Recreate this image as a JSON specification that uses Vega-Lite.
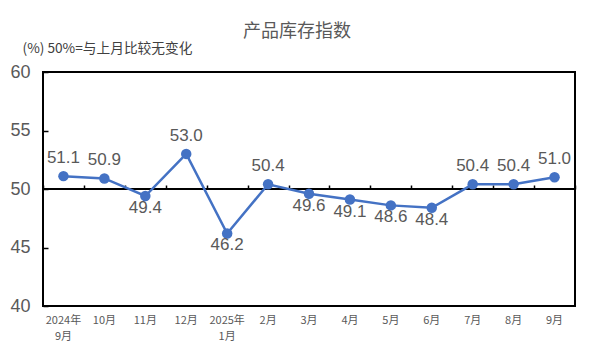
{
  "$schema": "https://vega.github.io/schema/vega-lite/v6.json",
  "autosize": "none",
  "width": 532,
  "height": 234,
  "padding": {"left": 43, "top": 72, "right": 16, "bottom": 48},
  "background": "white",
  "title": {
    "text": "产品库存指数",
    "anchor": "middle",
    "dx": -12,
    "offset": 0,
    "fontSize": 18,
    "fontWeight": "normal",
    "font": "Noto Sans CJK SC",
    "color": "#595959"
  },
  "config": {
    "view": {"stroke": "black", "strokeWidth": 2},
    "font": "Noto Sans CJK SC"
  },
  "data": {
    "values": [
      {"m": "2024年|9月", "v": 51.1},
      {"m": "10月", "v": 50.9},
      {"m": "11月", "v": 49.4},
      {"m": "12月", "v": 53.0},
      {"m": "2025年|1月", "v": 46.2},
      {"m": "2月", "v": 50.4},
      {"m": "3月", "v": 49.6},
      {"m": "4月", "v": 49.1},
      {"m": "5月", "v": 48.6},
      {"m": "6月", "v": 48.4},
      {"m": "7月", "v": 50.4},
      {"m": "8月", "v": 50.4},
      {"m": "9月", "v": 51.0}
    ]
  },
  "encoding": {
    "x": {
      "field": "m",
      "type": "nominal",
      "sort": null,
      "axis": null,
      "scale": {"paddingInner": 0, "paddingOuter": 0}
    },
    "y": {
      "field": "v",
      "type": "quantitative",
      "scale": {"domain": [40, 60], "nice": false, "zero": false},
      "axis": {
        "title": "(%)  50%=与上月比较无变化",
        "titleAngle": 0,
        "titleX": -21,
        "titleY": -24,
        "titleAlign": "left",
        "titleBaseline": "middle",
        "titleFontSize": 13.7,
        "titleFontWeight": "normal",
        "titleColor": "#404040",
        "values": [40, 45, 50, 55, 60],
        "grid": false,
        "domain": false,
        "tickSize": -5,
        "tickColor": "black",
        "tickWidth": 1.5,
        "labelPadding": 18,
        "labelFontSize": 18,
        "labelColor": "#595959",
        "labelFont": "Liberation Sans"
      }
    }
  },
  "resolve": {"axis": {"x": "independent"}},
  "layer": [
    {
      "mark": {"type": "rule", "color": "black", "strokeWidth": 1.5},
      "encoding": {
        "x": null,
        "y": {"datum": 50, "type": "quantitative"}
      }
    },
    {
      "mark": {"type": "line", "color": "#4472C4", "strokeWidth": 2.5},
      "encoding": {
        "x": {
          "field": "m",
          "type": "nominal",
          "sort": null,
          "axis": {
            "title": null,
            "labelAngle": 0,
            "labelExpr": "split(datum.label, '|')",
            "ticks": false,
            "domain": false,
            "labelPadding": 8,
            "labelFontSize": 11,
            "labelLineHeight": 16,
            "labelColor": "#595959"
          }
        }
      }
    },
    {
      "mark": {"type": "point", "filled": true, "opacity": 1, "size": 110, "color": "#4472C4"},
      "encoding": {
        "x": {
          "field": "m",
          "type": "nominal",
          "sort": null,
          "axis": {
            "orient": "top",
            "offset": -117,
            "title": null,
            "labels": false,
            "domain": false,
            "tickBand": "extent",
            "tickSize": 4,
            "tickColor": "black",
            "tickWidth": 1.5
          }
        }
      }
    },
    {
      "transform": [{"filter": "datum.v >= 50"}],
      "mark": {"type": "text", "baseline": "bottom", "dy": -9, "fontSize": 17, "color": "#595959", "font": "Liberation Sans"},
      "encoding": {"text": {"field": "v", "type": "quantitative", "format": ".1f"}}
    },
    {
      "transform": [{"filter": "datum.v < 50"}],
      "mark": {"type": "text", "baseline": "top", "dy": 4, "fontSize": 17, "color": "#595959", "font": "Liberation Sans"},
      "encoding": {"text": {"field": "v", "type": "quantitative", "format": ".1f"}}
    }
  ]
}
